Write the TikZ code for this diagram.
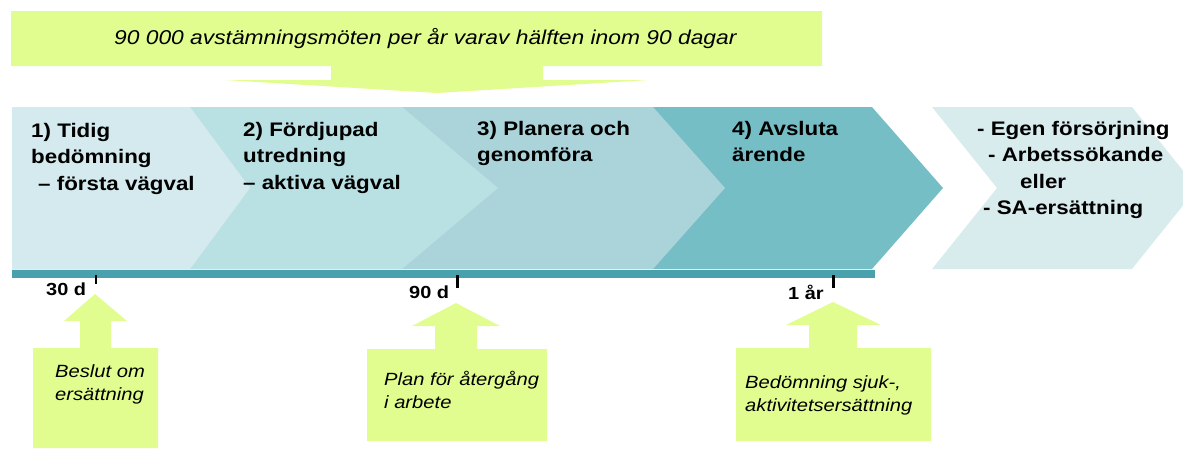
\documentclass[tikz,border=0pt]{standalone}
\usepackage{fontspec}
\setmainfont{Liberation Sans}[FakeStretch=1.14]
\definecolor{grn}{HTML}{E2FD8F}
\definecolor{cA}{HTML}{D4EAEE}
\definecolor{cB}{HTML}{B9E1E4}
\definecolor{cC}{HTML}{AAD4DA}
\definecolor{cD}{HTML}{76BEC6}
\definecolor{cE}{HTML}{D8ECEE}
\definecolor{barc}{HTML}{4AA1AE}
\tikzset{
  gfill/.style={fill=grn},
  steptext/.style={anchor=north west,inner sep=0pt,align=left,font=\fontsize{19.6}{26.4}\selectfont\bfseries},
  boxtext/.style={anchor=north west,inner sep=0pt,align=left,font=\fontsize{17.7}{23.5}\selectfont\itshape},
  ticklabel/.style={anchor=base west,inner sep=0pt,font=\fontsize{17.5}{20}\selectfont\bfseries},
  tickmark/.style={draw=black}
}
\begin{document}
\begin{tikzpicture}[x=1pt,y=-1pt]
\useasboundingbox (0,0) rectangle (1183,448);
\begin{scope}
\clip (0,0) rectangle (1183,448);
% banner with downward arrow
\fill[gfill] (11,11)--(822,11)--(822,66)--(543,66)--(543,80)--(649,80)--(437,93)--(225,80)--(331,80)--(331,66)--(11,66)--cycle;
% chevrons (right ones first)
\fill[cD] (12,107)--(872,107)--(943,188)--(872,269)--(12,269)--cycle;
\fill[cC] (12,107)--(653,107)--(725,188)--(653,269)--(12,269)--cycle;
\fill[cB] (12,107)--(402,107)--(498,188)--(402,269)--(12,269)--cycle;
\fill[cA] (12,107)--(190,107)--(250,188)--(190,269)--(12,269)--cycle;
\fill[cE] (932,107)--(1132,107)--(1197,188)--(1132,269)--(932,269)--(997,188)--cycle;
% time bar
\fill[barc] (12,270) rectangle (875,278);
% bottom call-outs
\fill[gfill] (33,448)--(33,348)--(80,348)--(80,321)--(64,321)--(95,294)--(127,321)--(111,321)--(111,348)--(158,348)--(158,448)--cycle;
\fill[gfill] (367,441)--(367,349)--(435,349)--(435,326)--(412,326)--(456,303)--(500,326)--(477,326)--(477,349)--(547,349)--(547,441)--cycle;
\fill[gfill] (736,441)--(736,348)--(809,348)--(809,325)--(786,325)--(833,302)--(881,325)--(857,325)--(857,348)--(931,348)--(931,441)--cycle;
\end{scope}
% ticks
\coordinate (t1a) at (96,275); \coordinate (t1b) at (96,284);
\coordinate (t2a) at (457,275); \coordinate (t2b) at (457,288);
\coordinate (t3a) at (833,275); \coordinate (t3b) at (833,288);
\draw[tickmark,line width=2pt] (t1a)--(t1b);
\draw[tickmark,line width=3pt] (t2a)--(t2b);
\draw[tickmark,line width=3pt] (t3a)--(t3b);
\node[ticklabel] (l30) at (46,295) {30 d};
\node[ticklabel] (l90) at (409,298) {90 d};
\node[ticklabel] (l1y) at (788,299) {1 år};
% banner text
\node[anchor=base west,inner sep=0pt,font=\fontsize{20}{24}\selectfont\itshape] (banner) at (114,44) {90 000 avstämningsmöten per år varav hälften inom 90 dagar};
% step texts
\node[steptext] (s1) at (31,120) {\rule{0pt}{17pt}1) Tidig\\bedömning\\\hspace*{7pt}– första vägval};
\node[steptext] (s2) at (243,119) {\rule{0pt}{17pt}2) Fördjupad\\utredning\\– aktiva vägval};
\node[steptext] (s3) at (477,118) {\rule{0pt}{17pt}3) Planera och\\genomföra};
\node[steptext] (s4) at (732,118) {\rule{0pt}{17pt}4) Avsluta\\ärende};
\node[steptext] (s5) at (977,118) {\rule{0pt}{17pt}- Egen försörjning\\\hspace*{11pt}- Arbetssökande\\\hspace*{43pt}eller\\\hspace*{6pt}- SA-ersättning};
% box texts
\node[boxtext] (b1) at (55,361) {\rule{0pt}{16pt}Beslut om\\ersättning};
\node[boxtext] (b2) at (384,369) {\rule{0pt}{16pt}Plan för återgång\\i arbete};
\node[boxtext] (b3) at (745,372) {\rule{0pt}{16pt}Bedömning sjuk-,\\aktivitetsersättning};
\end{tikzpicture}
\end{document}
